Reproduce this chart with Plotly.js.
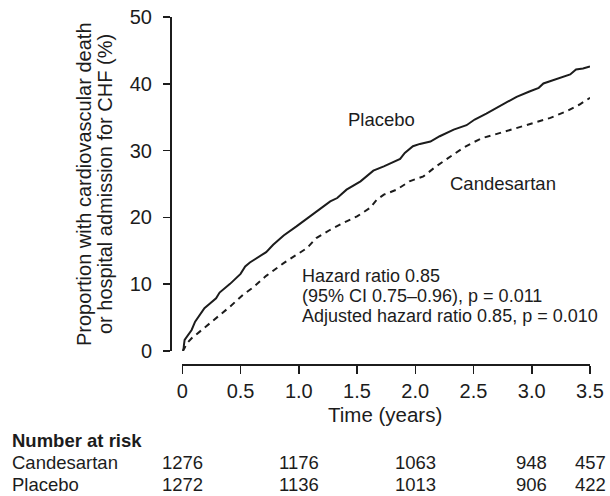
<!DOCTYPE html>
<html>
<head>
<meta charset="utf-8">
<script src="https://cdn.plot.ly/plotly-3.0.1.min.js"></script>
<style>
  html, body { margin: 0; padding: 0; background: #fff; }
  #chart { width: 610px; height: 496px; }
</style>
</head>
<body>
<div id="chart"></div>
<script>
// Cumulative event curves (time in years, proportion in %)
const placeboTime = [0, 0.01, 0.02, 0.05, 0.08, 0.11, 0.15, 0.19, 0.24, 0.29, 0.32, 0.41, 0.50, 0.54, 0.58, 0.67, 0.72, 0.78, 0.87, 0.98, 1.10, 1.18, 1.27, 1.33, 1.41, 1.53, 1.64, 1.73, 1.87, 1.91, 1.98, 2.04, 2.13, 2.21, 2.33, 2.44, 2.51, 2.61, 2.76, 2.87, 2.98, 3.06, 3.10, 3.21, 3.33, 3.38, 3.44, 3.50];
const placeboPct  = [0, 0.4, 1.65, 2.4, 3.15, 4.4, 5.4, 6.4, 7.15, 7.9, 8.75, 10.05, 11.55, 12.65, 13.25, 14.3, 14.8, 15.9, 17.3, 18.65, 20.15, 21.25, 22.4, 22.9, 24.15, 25.4, 27.0, 27.65, 28.75, 29.65, 30.65, 31.0, 31.35, 32.15, 33.15, 33.8, 34.65, 35.55, 37.05, 38.05, 38.85, 39.4, 40.05, 40.65, 41.4, 42.15, 42.3, 42.6];

const candTime = [0, 0.01, 0.04, 0.08, 0.15, 0.24, 0.32, 0.41, 0.52, 0.61, 0.72, 0.87, 0.98, 1.07, 1.15, 1.27, 1.38, 1.50, 1.61, 1.67, 1.73, 1.84, 1.95, 2.07, 2.18, 2.30, 2.41, 2.50, 2.58, 2.73, 2.87, 3.01, 3.16, 3.30, 3.41, 3.50];
const candPct  = [0, 0.15, 1.15, 1.9, 2.9, 4.15, 5.4, 6.65, 8.4, 9.55, 11.25, 13.15, 14.4, 15.4, 16.9, 18.15, 19.15, 20.15, 21.4, 22.65, 23.4, 24.15, 25.4, 26.15, 27.65, 29.15, 30.4, 31.25, 31.9, 32.65, 33.4, 34.05, 34.9, 35.9, 36.9, 37.9];

// Number-at-risk table
const riskTimes = [0, 1, 2, 3, 3.5];
const riskGroups = ['Candesartan', 'Placebo'];
const riskCandesartan = [1276, 1176, 1063, 948, 457];
const riskPlacebo = [1272, 1136, 1013, 906, 422];

// Axis ticks
const xTickVals = [0, 0.5, 1, 1.5, 2, 2.5, 3, 3.5];
const xTickText = ['0', '0.5', '1.0', '1.5', '2.0', '2.5', '3.0', '3.5'];
const yTickVals = [0, 10, 20, 30, 40, 50];

const statLines = [
  'Hazard ratio 0.85',
  '(95% CI 0.75\u20130.96), p = 0.011',
  'Adjusted hazard ratio 0.85, p = 0.010'
];

// Page geometry (pixels)
const W = 610, H = 496;
const M = { l: 170, r: 20, t: 17, b: 132 };
const plotW = W - M.l - M.r, plotH = H - M.t - M.b;
const px = x => (x - M.l) / plotW;      // page x -> paper x
const py = y => (H - M.b - y) / plotH;  // page y -> paper y

const FONT = 'Liberation Sans, Arial, Helvetica, sans-serif';
const INK = '#1c1c1c';

const traces = [
  {
    x: placeboTime, y: placeboPct, type: 'scatter', mode: 'lines',
    name: 'Placebo', line: { color: INK, width: 2, dash: 'solid' }
  },
  {
    x: candTime, y: candPct, type: 'scatter', mode: 'lines',
    name: 'Candesartan', line: { color: INK, width: 2, dash: '6px,5px' }
  }
];

const annotations = [];

// Curve labels
annotations.push({ x: 1.71, y: 34.6, xref: 'x', yref: 'y', text: 'Placebo', showarrow: false,
  font: { family: FONT, size: 18.5, color: INK } });
annotations.push({ x: 2.755, y: 25.05, xref: 'x', yref: 'y', text: 'Candesartan', showarrow: false,
  font: { family: FONT, size: 18.5, color: INK } });

// Hazard ratio block, one annotation per line
const statY = [11.3, 8.3, 5.3];
statLines.forEach((t, i) => {
  annotations.push({ x: 1.01, y: statY[i], xref: 'x', yref: 'y', text: t, showarrow: false,
    xanchor: 'left', yanchor: 'middle', font: { family: FONT, size: 18, color: INK } });
});

// Y-axis title on two rotated lines
const yTitle = ['Proportion with cardiovascular death', 'or hospital admission for CHF (%)'];
const yTitleX = [84, 105];
yTitle.forEach((t, i) => {
  annotations.push({ x: px(yTitleX[i]), y: py(184), xref: 'paper', yref: 'paper', text: t,
    textangle: -90, showarrow: false, xanchor: 'center', yanchor: 'middle',
    font: { family: FONT, size: 20, color: INK } });
});

// X-axis title
annotations.push({ x: 1.74, y: py(414), xref: 'x', yref: 'paper', text: 'Time (years)', showarrow: false,
  xanchor: 'center', yanchor: 'middle', borderpad: 0, font: { family: FONT, size: 20.5, color: INK } });

// Number at risk table
const TABLE_FONT = { family: FONT, size: 18.5, color: INK };
annotations.push({ x: px(11), y: py(440), xref: 'paper', yref: 'paper', text: '<b>Number at risk</b>',
  showarrow: false, xanchor: 'left', yanchor: 'middle', borderpad: 0, font: TABLE_FONT });
const rowY = [462.5, 484.5];
const rowVals = [riskCandesartan, riskPlacebo];
riskGroups.forEach((g, r) => {
  annotations.push({ x: px(11), y: py(rowY[r]), xref: 'paper', yref: 'paper', text: g,
    showarrow: false, xanchor: 'left', yanchor: 'middle', borderpad: 0, font: TABLE_FONT });
  riskTimes.forEach((t, c) => {
    annotations.push({ x: t, y: py(rowY[r]), xref: 'x', yref: 'paper', text: String(rowVals[r][c]),
      showarrow: false, xanchor: 'center', yanchor: 'middle', borderpad: 0, font: TABLE_FONT });
  });
});

const layout = {
  width: W, height: H,
  margin: M,
  paper_bgcolor: '#ffffff', plot_bgcolor: '#ffffff',
  showlegend: false,
  font: { family: FONT, color: INK },
  xaxis: {
    domain: [px(182.3), 1], range: [0, 3.5], anchor: 'free', position: 0,
    tickvals: xTickVals, ticktext: xTickText,
    showline: true, linecolor: INK, linewidth: 1.5,
    ticks: 'outside', ticklen: 8, tickwidth: 1.5, tickcolor: INK,
    showgrid: false, zeroline: false,
    tickfont: { family: FONT, size: 20, color: INK },
    ticklabelstandoff: 0
  },
  yaxis: {
    domain: [py(351), 1], range: [0, 50], anchor: 'free', position: 0,
    tickvals: yTickVals,
    showline: true, linecolor: INK, linewidth: 1.5,
    ticks: 'outside', ticklen: 7, tickwidth: 1.5, tickcolor: INK,
    showgrid: false, zeroline: false,
    tickfont: { family: FONT, size: 20, color: INK },
    ticklabelstandoff: 7
  },
  annotations: annotations
};

Plotly.newPlot('chart', traces, layout, { staticPlot: true, displayModeBar: false });
</script>
</body>
</html>
